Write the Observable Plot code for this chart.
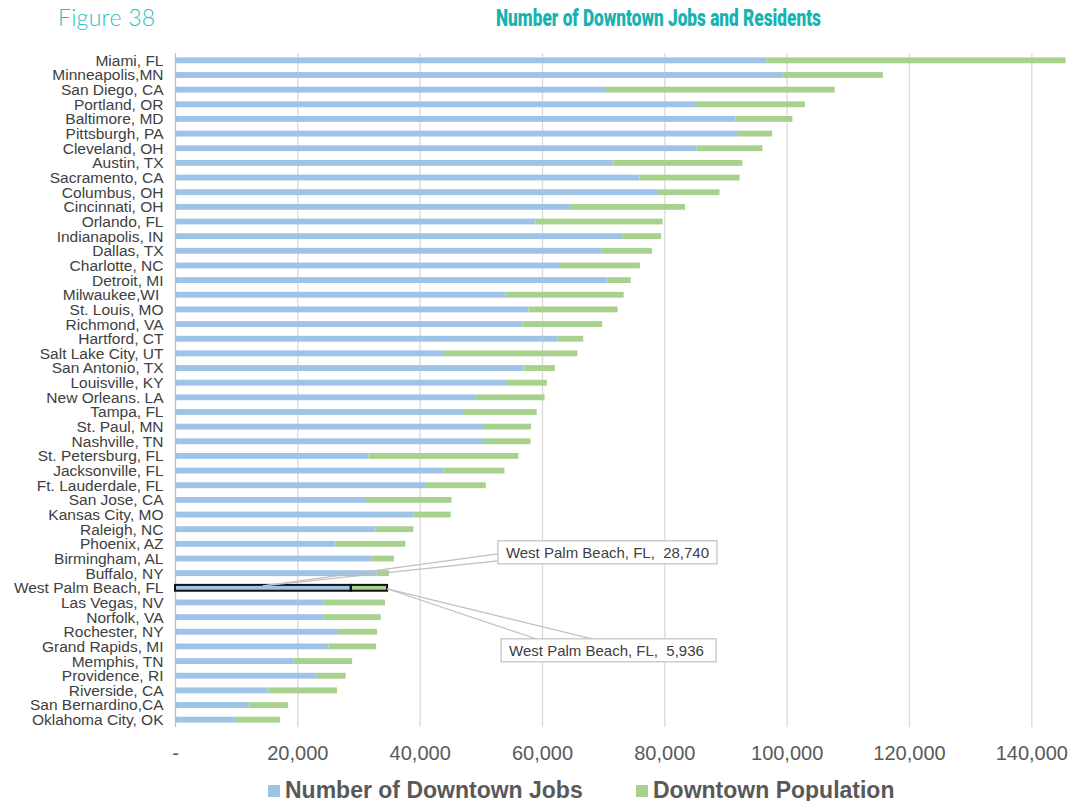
<!DOCTYPE html>
<html><head><meta charset="utf-8">
<script src="https://cdn.jsdelivr.net/npm/d3@7"></script>
<script src="https://cdn.jsdelivr.net/npm/@observablehq/plot@0.6"></script>
<style>
html,body{margin:0;padding:0;background:#fff;}
body{width:1086px;height:801px;overflow:hidden;position:relative;font-family:"Liberation Sans",Arial,sans-serif;}
#header{position:relative;height:40px;}
#fig{position:absolute;left:58px;top:3px;font-family:Lato,"Open Sans",sans-serif;font-weight:300;font-size:23px;letter-spacing:0.3px;color:#2bbfc4;white-space:nowrap;}
#title{position:absolute;left:496px;top:5px;font-family:Roboto,"Liberation Sans",sans-serif;font-weight:900;font-size:23px;color:#17b3b1;white-space:nowrap;transform:scaleX(0.75);transform-origin:0 50%;}
#chart{position:absolute;left:0;top:40px;}
#legend{position:absolute;left:0;top:776px;width:1086px;height:28px;font-weight:700;font-size:23px;color:#595959;}
.sw{position:absolute;top:9px;width:12px;height:12px;}
.lt{position:absolute;top:1px;white-space:nowrap;line-height:26px;}
</style></head>
<body>
<div id="header"><div id="fig">Figure 38</div><div id="title">Number of Downtown Jobs and Residents</div></div>
<div id="chart"></div>
<div id="legend"></div>
<script>
const cities = ["Miami, FL","Minneapolis,MN","San Diego, CA","Portland, OR","Baltimore, MD","Pittsburgh, PA","Cleveland, OH","Austin, TX","Sacramento, CA","Columbus, OH","Cincinnati, OH","Orlando, FL","Indianapolis, IN","Dallas, TX","Charlotte, NC","Detroit, MI","Milwaukee,WI ","St. Louis, MO","Richmond, VA","Hartford, CT","Salt Lake City, UT","San Antonio, TX","Louisville, KY","New Orleans. LA","Tampa, FL","St. Paul, MN","Nashville, TN","St. Petersburg, FL","Jacksonville, FL","Ft. Lauderdale, FL","San Jose, CA","Kansas City, MO","Raleigh, NC","Phoenix, AZ","Birmingham, AL","Buffalo, NY","West Palm Beach, FL","Las Vegas, NV","Norfolk, VA","Rochester, NY","Grand Rapids, MI","Memphis, TN","Providence, RI","Riverside, CA","San Bernardino,CA","Oklahoma City, OK"];
const jobs = [96700,99350,70300,85160,91640,92070,85290,71520,75920,78860,64610,58920,73130,69750,62930,70670,54040,57800,56820,62490,43990,56980,54250,49230,47080,50530,50360,31640,43920,41060,31070,38960,32810,26210,32170,32940,28740,24230,24230,26500,25100,19370,23170,15110,12060,9950];
const population = [48900,16400,37560,17810,9300,5560,10750,21230,16390,10160,18780,20800,6330,8240,13090,3830,19310,14570,13030,4250,21770,5130,6550,11190,12050,7670,7770,24510,9940,9750,14140,6130,6150,11460,3630,2040,5936,10110,9410,6550,7770,9590,4740,11390,6440,7210];
const seriesNames = ["Number of Downtown Jobs","Downtown Population"];
const seriesColors = ["#9dc3e6","#a9d18e"];
const xTicks = [0,20000,40000,60000,80000,100000,120000,140000];
const highlight = "West Palm Beach, FL";
const calloutLabels = ["West Palm Beach, FL,  28,740","West Palm Beach, FL,  5,936"];

const rows = cities.flatMap((c,i)=>[
  {city:c, series:seriesNames[0], value:jobs[i]},
  {city:c, series:seriesNames[1], value:population[i]}
]);

const inset = 4.4;
const chart = Plot.plot({
  width:1086, height:730,
  marginLeft:175, marginRight:18, marginTop:13, marginBottom:43,
  style:{fontFamily:"'Liberation Sans', Arial, sans-serif", background:"#fff", overflow:"visible"},
  x:{domain:[0,146000], label:null},
  y:{domain:cities, padding:0, label:null},
  color:{domain:seriesNames, range:seriesColors},
  marks:[
    Plot.ruleX(xTicks.slice(1), {stroke:"#d9d9d9", strokeWidth:1.3}),
    Plot.ruleX([0], {stroke:"#bfbfbf", strokeWidth:1.3}),
    Plot.barX(rows, {x:"value", y:"city", fill:"series", insetTop:inset, insetBottom:inset}),
    Plot.barX(rows.filter(d=>d.city===highlight), {x:"value", y:"city", fill:"none", stroke:"#111", strokeWidth:2, insetTop:inset, insetBottom:inset}),
    Plot.axisX({ticks:xTicks, tickSize:0, tickPadding:18, fontSize:20, fill:"#595959", label:null,
      tickFormat:d=> d===0 ? "-" : d3.format(",")(d)}),
    Plot.axisY({tickSize:0, tickPadding:12, fontSize:15.5, fill:"#404040", label:null})
  ]
});
document.getElementById("chart").appendChild(chart);

// callouts placed with the chart's scales
const sx = chart.scale("x"), sy = chart.scale("y");
const yc = sy.apply(highlight) + sy.bandwidth/2;
const hi = cities.indexOf(highlight);
const jobVal = jobs[hi], popVal = population[hi];
const a1 = sx.apply(jobVal/2), a2 = sx.apply(jobVal+popVal);
const svg = d3.select(chart);
const g = svg.append("g").attr("font-family","'Liberation Sans', Arial, sans-serif").attr("font-size",15).attr("fill","#404040").attr("text-anchor","start");
const boxes = [
  {ax:a1, ay:yc-2, x:a1+235, y:yc-47, w:219, h:23, l1:[a1+235, yc-34], l2:[a1+235, yc-27], text:calloutLabels[0]},
  {ax:a2, ay:yc+1, x:a2+114, y:yc+51, w:215, h:23, l1:[a2+149, yc+51], l2:[a2+205, yc+51], text:calloutLabels[1]}
];
for (const b of boxes) {
  g.append("line").attr("x1",b.ax).attr("y1",b.ay).attr("x2",b.l1[0]).attr("y2",b.l1[1]).attr("stroke","#bfbfbf").attr("stroke-width",1.2);
  g.append("line").attr("x1",b.ax).attr("y1",b.ay).attr("x2",b.l2[0]).attr("y2",b.l2[1]).attr("stroke","#bfbfbf").attr("stroke-width",1.2);
  g.append("rect").attr("x",b.x).attr("y",b.y).attr("width",b.w).attr("height",b.h).attr("fill","#fff").attr("stroke","#bfbfbf").attr("stroke-width",1.2);
  g.append("text").attr("x",b.x+8).attr("y",b.y+b.h/2).attr("dy","0.35em").attr("text-anchor","start").style("white-space","pre").text(b.text);
}

// legend
const legend = d3.select("#legend");
const legPos = [268, 636];
seriesNames.forEach((s,i)=>{
  legend.append("div").attr("class","sw").style("left",legPos[i]+"px").style("background",seriesColors[i]);
  legend.append("div").attr("class","lt").style("left",(legPos[i]+17)+"px").text(s);
});
</script>
</body></html>
